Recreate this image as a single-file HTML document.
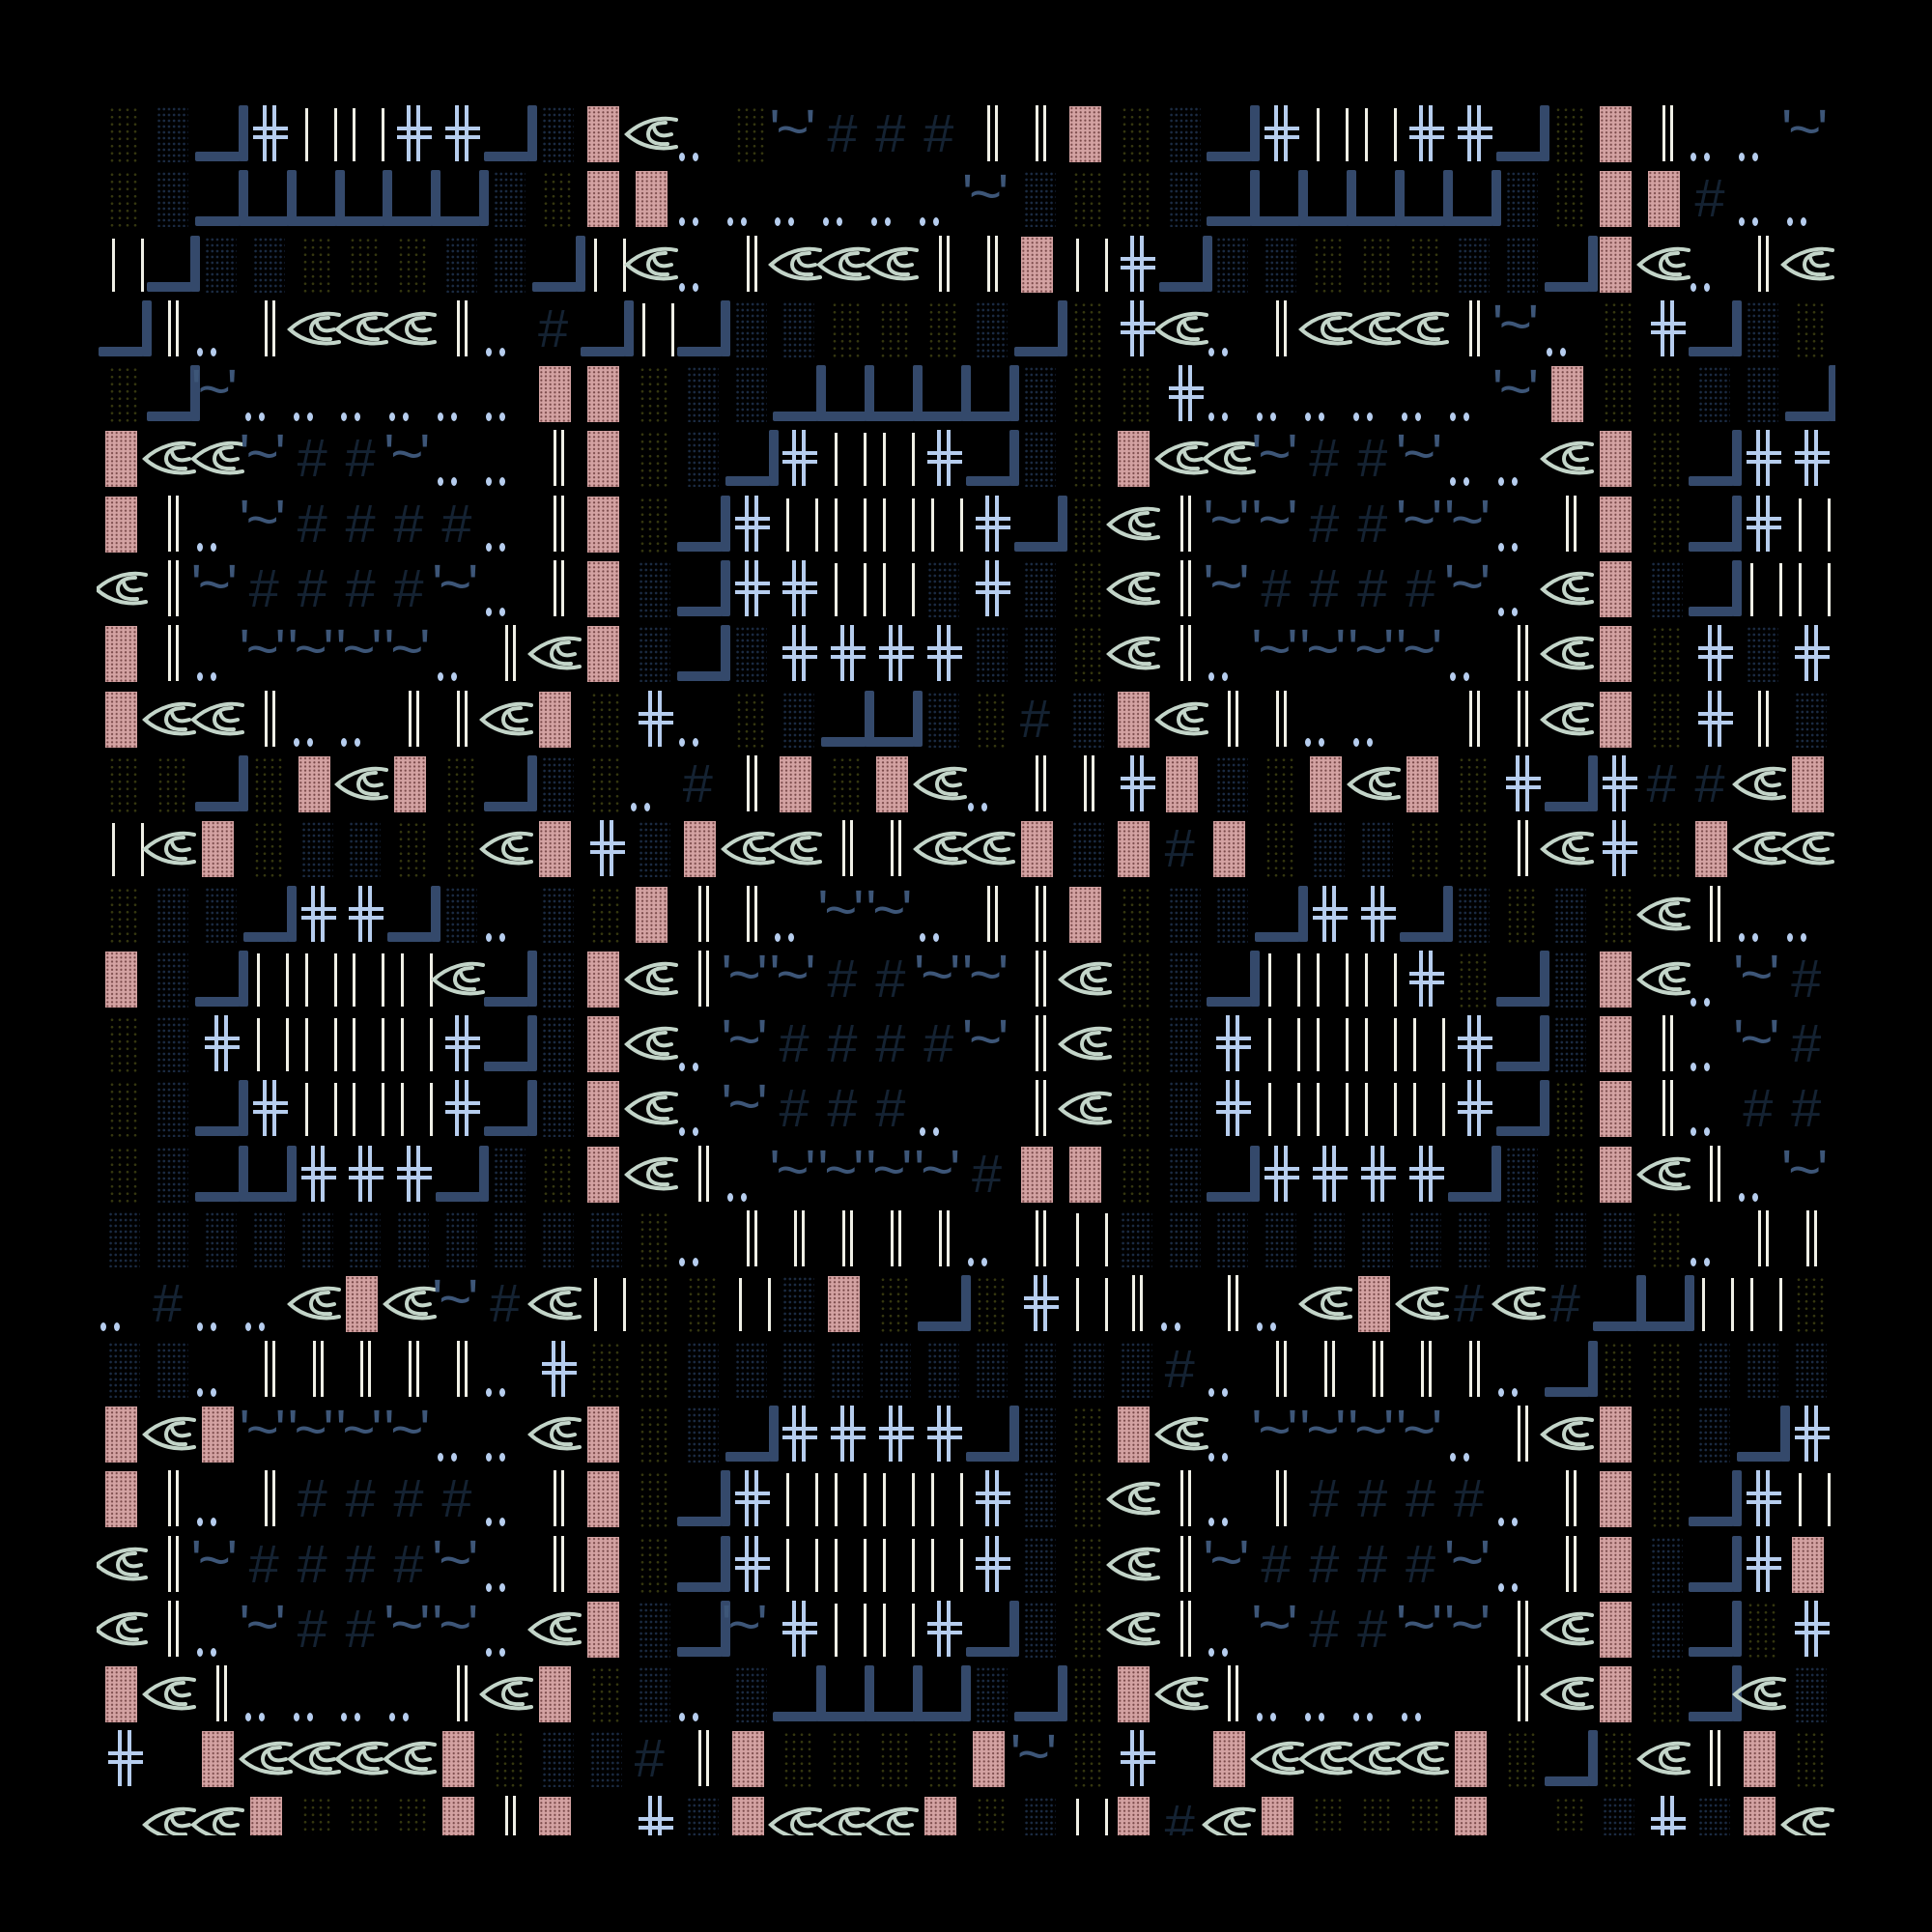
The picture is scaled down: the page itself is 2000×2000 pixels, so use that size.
<!DOCTYPE html>
<html><head><meta charset="utf-8"><style>
html,body{margin:0;padding:0;background:#000;width:2000px;height:2000px;overflow:hidden}
.c{position:absolute;left:100px;top:100px;width:1800px;height:1800px;overflow:hidden}
.g{position:absolute;left:2px;top:0;display:grid;grid-template-columns:repeat(36,49.9px);grid-auto-rows:67.3px}
.g i{position:relative;display:block;font-style:normal}
.g i::before,.g i::after{content:"";position:absolute}
.p::before{left:7px;top:10px;width:33px;height:58px;background:#d3a2a2 radial-gradient(circle,#7a4a4a 0.9px,transparent 1.3px) 0 0/4.7px 4.2px}
.o::before{left:10px;top:10px;width:33px;height:58px;background:radial-gradient(circle,#35370f 1.1px,transparent 1.6px) 0 0/8px 7.5px}
.b::before{left:10px;top:10px;width:33px;height:58px;background:radial-gradient(circle,#1b2b43 1.1px,transparent 1.6px) 0 0/5.2px 6px}
.l::before{left:0;top:57px;width:47px;height:10px;background:#34496b;border-radius:2px}
.l::after{left:45px;top:9px;width:10px;height:58px;background:#34496b;border-radius:2px}
.x::before{left:20px;top:9px;width:14px;height:58px;background:linear-gradient(to right,#b6cdee 0 4px,transparent 4px 10px,#b6cdee 10px 14px)}
.x::after{left:10px;top:31px;width:36px;height:13px;background:linear-gradient(#b6cdee 0 4px,transparent 4px 9px,#b6cdee 9px 13px)}
.v::before{left:14px;top:12px;width:3px;height:55px;background:#f0f0e6}
.v::after{left:44px;top:12px;width:3px;height:55px;background:#f0f0e6}
.d::before{left:22px;top:9px;width:3px;height:58px;background:#f0f0e6}
.d::after{left:30px;top:9px;width:3px;height:58px;background:#f0f0e6}
.s::before{left:2px;top:58px;width:6px;height:9px;border-radius:50%;background:#b6cdee}
.s::after{left:16px;top:58px;width:6px;height:9px;border-radius:50%;background:#b6cdee}
.t{color:#3d5678;font:58px/1 "Liberation Sans",sans-serif;padding:6px 0 0 0;letter-spacing:-4px;white-space:nowrap;margin-left:-4px}
.h{color:#142232;font:56px/1 "Liberation Sans",sans-serif;padding:10px 0 0 6px}
.e svg{position:absolute;left:-6px;top:18px;width:58px;height:40px;overflow:visible}
</style></head><body>
<svg width="0" height="0" style="position:absolute"><symbol id="y" viewBox="0 0 58 40"><g fill="none" stroke="#c3d5c9" stroke-width="4" stroke-linecap="round"><path d="M55 6C38 2 18 8 4 21C18 34 38 38 55 34"/><path d="M44 9C32 9 26 14 26 21C26 28 33 32 46 31"/><path d="M32 14C34 22 40 24 50 21"/></g></symbol></svg>
<div class="c"><div class="g">
<!-- R0 -->
<i class=o></i><i class=b></i><i class=l></i><i class=x></i><i class=v></i><i class=v></i><i class=x></i><i class=x></i><i class=l></i><i class=b></i><i class=p></i><i class=e><svg><use href="#y"/></svg></i><i class=s></i><i class=o></i><i class=t>'~'</i><i class=h>#</i><i class=h>#</i><i class=h>#</i><i class=d></i><i class=d></i><i class=p></i><i class=o></i><i class=b></i><i class=l></i><i class=x></i><i class=v></i><i class=v></i><i class=x></i><i class=x></i><i class=l></i><i class=o></i><i class=p></i><i class=d></i><i class=s></i><i class=s></i><i class=t>'~'</i>
<!-- R1 -->
<i class=o></i><i class=b></i><i class=l></i><i class=l></i><i class=l></i><i class=l></i><i class=l></i><i class=l></i><i class=b></i><i class=o></i><i class=p></i><i class=p></i><i class=s></i><i class=s></i><i class=s></i><i class=s></i><i class=s></i><i class=s></i><i class=t>'~'</i><i class=b></i><i class=o></i><i class=o></i><i class=b></i><i class=l></i><i class=l></i><i class=l></i><i class=l></i><i class=l></i><i class=l></i><i class=b></i><i class=o></i><i class=p></i><i class=p></i><i class=h>#</i><i class=s></i><i class=s></i>
<!-- R2 -->
<i class=v></i><i class=l></i><i class=b></i><i class=b></i><i class=o></i><i class=o></i><i class=o></i><i class=b></i><i class=b></i><i class=l></i><i class=v></i><i class=e><svg><use href="#y"/></svg></i><i class=s></i><i class=d></i><i class=e><svg><use href="#y"/></svg></i><i class=e><svg><use href="#y"/></svg></i><i class=e><svg><use href="#y"/></svg></i><i class=d></i><i class=d></i><i class=p></i><i class=v></i><i class=x></i><i class=l></i><i class=b></i><i class=b></i><i class=o></i><i class=o></i><i class=o></i><i class=b></i><i class=b></i><i class=l></i><i class=p></i><i class=e><svg><use href="#y"/></svg></i><i class=s></i><i class=d></i><i class=e><svg><use href="#y"/></svg></i>
<!-- R3 -->
<i class=l></i><i class=d></i><i class=s></i><i class=d></i><i class=e><svg><use href="#y"/></svg></i><i class=e><svg><use href="#y"/></svg></i><i class=e><svg><use href="#y"/></svg></i><i class=d></i><i class=s></i><i class=h>#</i><i class=l></i><i class=v></i><i class=l></i><i class=b></i><i class=b></i><i class=o></i><i class=o></i><i class=o></i><i class=b></i><i class=l></i><i class=o></i><i class=x></i><i class=e><svg><use href="#y"/></svg></i><i class=s></i><i class=d></i><i class=e><svg><use href="#y"/></svg></i><i class=e><svg><use href="#y"/></svg></i><i class=e><svg><use href="#y"/></svg></i><i class=d></i><i class=t>'~'</i><i class=s></i><i class=o></i><i class=x></i><i class=l></i><i class=b></i><i class=o></i>
<!-- R4 -->
<i class=o></i><i class=l></i><i class=t>'~'</i><i class=s></i><i class=s></i><i class=s></i><i class=s></i><i class=s></i><i class=s></i><i class=p></i><i class=p></i><i class=o></i><i class=b></i><i class=b></i><i class=l></i><i class=l></i><i class=l></i><i class=l></i><i class=l></i><i class=b></i><i class=o></i><i class=o></i><i class=x></i><i class=s></i><i class=s></i><i class=s></i><i class=s></i><i class=s></i><i class=s></i><i class=t>'~'</i><i class=p></i><i class=o></i><i class=o></i><i class=b></i><i class=b></i><i class=l></i>
<!-- R5 -->
<i class=p></i><i class=e><svg><use href="#y"/></svg></i><i class=e><svg><use href="#y"/></svg></i><i class=t>'~'</i><i class=h>#</i><i class=h>#</i><i class=t>'~'</i><i class=s></i><i class=s></i><i class=d></i><i class=p></i><i class=o></i><i class=b></i><i class=l></i><i class=x></i><i class=v></i><i class=v></i><i class=x></i><i class=l></i><i class=b></i><i class=o></i><i class=p></i><i class=e><svg><use href="#y"/></svg></i><i class=e><svg><use href="#y"/></svg></i><i class=t>'~'</i><i class=h>#</i><i class=h>#</i><i class=t>'~'</i><i class=s></i><i class=s></i><i class=e><svg><use href="#y"/></svg></i><i class=p></i><i class=o></i><i class=l></i><i class=x></i><i class=x></i>
<!-- R6 -->
<i class=p></i><i class=d></i><i class=s></i><i class=t>'~'</i><i class=h>#</i><i class=h>#</i><i class=h>#</i><i class=h>#</i><i class=s></i><i class=d></i><i class=p></i><i class=o></i><i class=l></i><i class=x></i><i class=v></i><i class=v></i><i class=v></i><i class=v></i><i class=x></i><i class=l></i><i class=o></i><i class=e><svg><use href="#y"/></svg></i><i class=d></i><i class=t>'~'</i><i class=t>'~'</i><i class=h>#</i><i class=h>#</i><i class=t>'~'</i><i class=t>'~'</i><i class=s></i><i class=d></i><i class=p></i><i class=o></i><i class=l></i><i class=x></i><i class=v></i>
<!-- R7 -->
<i class=e><svg><use href="#y"/></svg></i><i class=d></i><i class=t>'~'</i><i class=h>#</i><i class=h>#</i><i class=h>#</i><i class=h>#</i><i class=t>'~'</i><i class=s></i><i class=d></i><i class=p></i><i class=b></i><i class=l></i><i class=x></i><i class=x></i><i class=v></i><i class=v></i><i class=b></i><i class=x></i><i class=b></i><i class=o></i><i class=e><svg><use href="#y"/></svg></i><i class=d></i><i class=t>'~'</i><i class=h>#</i><i class=h>#</i><i class=h>#</i><i class=h>#</i><i class=t>'~'</i><i class=s></i><i class=e><svg><use href="#y"/></svg></i><i class=p></i><i class=b></i><i class=l></i><i class=v></i><i class=v></i>
<!-- R8 -->
<i class=p></i><i class=d></i><i class=s></i><i class=t>'~'</i><i class=t>'~'</i><i class=t>'~'</i><i class=t>'~'</i><i class=s></i><i class=d></i><i class=e><svg><use href="#y"/></svg></i><i class=p></i><i class=b></i><i class=l></i><i class=b></i><i class=x></i><i class=x></i><i class=x></i><i class=x></i><i class=b></i><i class=b></i><i class=o></i><i class=e><svg><use href="#y"/></svg></i><i class=d></i><i class=s></i><i class=t>'~'</i><i class=t>'~'</i><i class=t>'~'</i><i class=t>'~'</i><i class=s></i><i class=d></i><i class=e><svg><use href="#y"/></svg></i><i class=p></i><i class=o></i><i class=x></i><i class=b></i><i class=x></i>
<!-- R9 -->
<i class=p></i><i class=e><svg><use href="#y"/></svg></i><i class=e><svg><use href="#y"/></svg></i><i class=d></i><i class=s></i><i class=s></i><i class=d></i><i class=d></i><i class=e><svg><use href="#y"/></svg></i><i class=p></i><i class=o></i><i class=x></i><i class=s></i><i class=o></i><i class=b></i><i class=l></i><i class=l></i><i class=b></i><i class=o></i><i class=h>#</i><i class=b></i><i class=p></i><i class=e><svg><use href="#y"/></svg></i><i class=d></i><i class=d></i><i class=s></i><i class=s></i><i></i><i class=d></i><i class=d></i><i class=e><svg><use href="#y"/></svg></i><i class=p></i><i class=o></i><i class=x></i><i class=d></i><i class=b></i>
<!-- R10 -->
<i class=o></i><i class=o></i><i class=l></i><i class=o></i><i class=p></i><i class=e><svg><use href="#y"/></svg></i><i class=p></i><i class=o></i><i class=l></i><i class=b></i><i class=o></i><i class=s></i><i class=h>#</i><i class=d></i><i class=p></i><i class=o></i><i class=p></i><i class=e><svg><use href="#y"/></svg></i><i class=s></i><i class=d></i><i class=d></i><i class=x></i><i class=p></i><i class=b></i><i class=o></i><i class=p></i><i class=e><svg><use href="#y"/></svg></i><i class=p></i><i class=o></i><i class=x></i><i class=l></i><i class=x></i><i class=h>#</i><i class=h>#</i><i class=e><svg><use href="#y"/></svg></i><i class=p></i>
<!-- R11 -->
<i class=v></i><i class=e><svg><use href="#y"/></svg></i><i class=p></i><i class=o></i><i class=b></i><i class=b></i><i class=o></i><i class=o></i><i class=e><svg><use href="#y"/></svg></i><i class=p></i><i class=x></i><i class=b></i><i class=p></i><i class=e><svg><use href="#y"/></svg></i><i class=e><svg><use href="#y"/></svg></i><i class=d></i><i class=d></i><i class=e><svg><use href="#y"/></svg></i><i class=e><svg><use href="#y"/></svg></i><i class=p></i><i class=b></i><i class=p></i><i class=h>#</i><i class=p></i><i class=o></i><i class=b></i><i class=b></i><i class=o></i><i class=o></i><i class=d></i><i class=e><svg><use href="#y"/></svg></i><i class=x></i><i class=o></i><i class=p></i><i class=e><svg><use href="#y"/></svg></i><i class=e><svg><use href="#y"/></svg></i>
<!-- R12 -->
<i class=o></i><i class=b></i><i class=b></i><i class=l></i><i class=x></i><i class=x></i><i class=l></i><i class=b></i><i class=s></i><i class=b></i><i class=o></i><i class=p></i><i class=d></i><i class=d></i><i class=s></i><i class=t>'~'</i><i class=t>'~'</i><i class=s></i><i class=d></i><i class=d></i><i class=p></i><i class=o></i><i class=b></i><i class=b></i><i class=l></i><i class=x></i><i class=x></i><i class=l></i><i class=b></i><i class=o></i><i class=b></i><i class=o></i><i class=e><svg><use href="#y"/></svg></i><i class=d></i><i class=s></i><i class=s></i>
<!-- R13 -->
<i class=p></i><i class=b></i><i class=l></i><i class=v></i><i class=v></i><i class=v></i><i class=v></i><i class=e><svg><use href="#y"/></svg></i><i class=l></i><i class=b></i><i class=p></i><i class=e><svg><use href="#y"/></svg></i><i class=d></i><i class=t>'~'</i><i class=t>'~'</i><i class=h>#</i><i class=h>#</i><i class=t>'~'</i><i class=t>'~'</i><i class=d></i><i class=e><svg><use href="#y"/></svg></i><i class=o></i><i class=b></i><i class=l></i><i class=v></i><i class=v></i><i class=v></i><i class=x></i><i class=o></i><i class=l></i><i class=b></i><i class=p></i><i class=e><svg><use href="#y"/></svg></i><i class=s></i><i class=t>'~'</i><i class=h>#</i>
<!-- R14 -->
<i class=o></i><i class=b></i><i class=x></i><i class=v></i><i class=v></i><i class=v></i><i class=v></i><i class=x></i><i class=l></i><i class=b></i><i class=p></i><i class=e><svg><use href="#y"/></svg></i><i class=s></i><i class=t>'~'</i><i class=h>#</i><i class=h>#</i><i class=h>#</i><i class=h>#</i><i class=t>'~'</i><i class=d></i><i class=e><svg><use href="#y"/></svg></i><i class=o></i><i class=b></i><i class=x></i><i class=v></i><i class=v></i><i class=v></i><i class=v></i><i class=x></i><i class=l></i><i class=b></i><i class=p></i><i class=d></i><i class=s></i><i class=t>'~'</i><i class=h>#</i>
<!-- R15 -->
<i class=o></i><i class=b></i><i class=l></i><i class=x></i><i class=v></i><i class=v></i><i class=v></i><i class=x></i><i class=l></i><i class=b></i><i class=p></i><i class=e><svg><use href="#y"/></svg></i><i class=s></i><i class=t>'~'</i><i class=h>#</i><i class=h>#</i><i class=h>#</i><i class=s></i><i></i><i class=d></i><i class=e><svg><use href="#y"/></svg></i><i class=o></i><i class=b></i><i class=x></i><i class=v></i><i class=v></i><i class=v></i><i class=v></i><i class=x></i><i class=l></i><i class=o></i><i class=p></i><i class=d></i><i class=s></i><i class=h>#</i><i class=h>#</i>
<!-- R16 -->
<i class=o></i><i class=b></i><i class=l></i><i class=l></i><i class=x></i><i class=x></i><i class=x></i><i class=l></i><i class=b></i><i class=o></i><i class=p></i><i class=e><svg><use href="#y"/></svg></i><i class=d></i><i class=s></i><i class=t>'~'</i><i class=t>'~'</i><i class=t>'~'</i><i class=t>'~'</i><i class=h>#</i><i class=p></i><i class=p></i><i class=o></i><i class=b></i><i class=l></i><i class=x></i><i class=x></i><i class=x></i><i class=x></i><i class=l></i><i class=b></i><i class=o></i><i class=p></i><i class=e><svg><use href="#y"/></svg></i><i class=d></i><i class=s></i><i class=t>'~'</i>
<!-- R17 -->
<i class=b></i><i class=b></i><i class=b></i><i class=b></i><i class=b></i><i class=b></i><i class=b></i><i class=b></i><i class=b></i><i class=b></i><i class=b></i><i class=o></i><i class=s></i><i class=d></i><i class=d></i><i class=d></i><i class=d></i><i class=d></i><i class=s></i><i class=d></i><i class=v></i><i class=b></i><i class=b></i><i class=b></i><i class=b></i><i class=b></i><i class=b></i><i class=b></i><i class=b></i><i class=b></i><i class=b></i><i class=b></i><i class=o></i><i class=s></i><i class=d></i><i class=d></i>
<!-- R18 -->
<i class=s></i><i class=h>#</i><i class=s></i><i class=s></i><i class=e><svg><use href="#y"/></svg></i><i class=p></i><i class=e><svg><use href="#y"/></svg></i><i class=t>'~'</i><i class=h>#</i><i class=e><svg><use href="#y"/></svg></i><i class=v></i><i class=o></i><i class=o></i><i class=v></i><i class=b></i><i class=p></i><i class=o></i><i class=l></i><i class=o></i><i class=x></i><i class=v></i><i class=d></i><i class=s></i><i class=d></i><i class=s></i><i class=e><svg><use href="#y"/></svg></i><i class=p></i><i class=e><svg><use href="#y"/></svg></i><i class=h>#</i><i class=e><svg><use href="#y"/></svg></i><i class=h>#</i><i class=l></i><i class=l></i><i class=v></i><i class=v></i><i class=o></i>
<!-- R19 -->
<i class=b></i><i class=b></i><i class=s></i><i class=d></i><i class=d></i><i class=d></i><i class=d></i><i class=d></i><i class=s></i><i class=x></i><i class=o></i><i class=o></i><i class=b></i><i class=b></i><i class=b></i><i class=b></i><i class=b></i><i class=b></i><i class=b></i><i class=b></i><i class=b></i><i class=b></i><i class=h>#</i><i class=s></i><i class=d></i><i class=d></i><i class=d></i><i class=d></i><i class=d></i><i class=s></i><i class=l></i><i class=o></i><i class=o></i><i class=b></i><i class=b></i><i class=b></i>
<!-- R20 -->
<i class=p></i><i class=e><svg><use href="#y"/></svg></i><i class=p></i><i class=t>'~'</i><i class=t>'~'</i><i class=t>'~'</i><i class=t>'~'</i><i class=s></i><i class=s></i><i class=e><svg><use href="#y"/></svg></i><i class=p></i><i class=o></i><i class=b></i><i class=l></i><i class=x></i><i class=x></i><i class=x></i><i class=x></i><i class=l></i><i class=b></i><i class=o></i><i class=p></i><i class=e><svg><use href="#y"/></svg></i><i class=s></i><i class=t>'~'</i><i class=t>'~'</i><i class=t>'~'</i><i class=t>'~'</i><i class=s></i><i class=d></i><i class=e><svg><use href="#y"/></svg></i><i class=p></i><i class=o></i><i class=b></i><i class=l></i><i class=x></i>
<!-- R21 -->
<i class=p></i><i class=d></i><i class=s></i><i class=d></i><i class=h>#</i><i class=h>#</i><i class=h>#</i><i class=h>#</i><i class=s></i><i class=d></i><i class=p></i><i class=o></i><i class=l></i><i class=x></i><i class=v></i><i class=v></i><i class=v></i><i class=v></i><i class=x></i><i class=b></i><i class=o></i><i class=e><svg><use href="#y"/></svg></i><i class=d></i><i class=s></i><i class=d></i><i class=h>#</i><i class=h>#</i><i class=h>#</i><i class=h>#</i><i class=s></i><i class=d></i><i class=p></i><i class=o></i><i class=l></i><i class=x></i><i class=v></i>
<!-- R22 -->
<i class=e><svg><use href="#y"/></svg></i><i class=d></i><i class=t>'~'</i><i class=h>#</i><i class=h>#</i><i class=h>#</i><i class=h>#</i><i class=t>'~'</i><i class=s></i><i class=d></i><i class=p></i><i class=o></i><i class=l></i><i class=x></i><i class=v></i><i class=v></i><i class=v></i><i class=v></i><i class=x></i><i class=b></i><i class=o></i><i class=e><svg><use href="#y"/></svg></i><i class=d></i><i class=t>'~'</i><i class=h>#</i><i class=h>#</i><i class=h>#</i><i class=h>#</i><i class=t>'~'</i><i class=s></i><i class=d></i><i class=p></i><i class=b></i><i class=l></i><i class=x></i><i class=p></i>
<!-- R23 -->
<i class=e><svg><use href="#y"/></svg></i><i class=d></i><i class=s></i><i class=t>'~'</i><i class=h>#</i><i class=h>#</i><i class=t>'~'</i><i class=t>'~'</i><i class=s></i><i class=e><svg><use href="#y"/></svg></i><i class=p></i><i class=b></i><i class=l></i><i class=t>'~'</i><i class=x></i><i class=v></i><i class=v></i><i class=x></i><i class=l></i><i class=b></i><i class=o></i><i class=e><svg><use href="#y"/></svg></i><i class=d></i><i class=s></i><i class=t>'~'</i><i class=h>#</i><i class=h>#</i><i class=t>'~'</i><i class=t>'~'</i><i class=d></i><i class=e><svg><use href="#y"/></svg></i><i class=p></i><i class=b></i><i class=l></i><i class=o></i><i class=x></i>
<!-- R24 -->
<i class=p></i><i class=e><svg><use href="#y"/></svg></i><i class=d></i><i class=s></i><i class=s></i><i class=s></i><i class=s></i><i class=d></i><i class=e><svg><use href="#y"/></svg></i><i class=p></i><i class=o></i><i class=b></i><i class=s></i><i class=b></i><i class=l></i><i class=l></i><i class=l></i><i class=l></i><i class=b></i><i class=l></i><i class=o></i><i class=p></i><i class=e><svg><use href="#y"/></svg></i><i class=d></i><i class=s></i><i class=s></i><i class=s></i><i class=s></i><i></i><i class=d></i><i class=e><svg><use href="#y"/></svg></i><i class=p></i><i class=o></i><i class=l></i><i class=e><svg><use href="#y"/></svg></i><i class=b></i>
<!-- R25 -->
<i class=x></i><i></i><i class=p></i><i class=e><svg><use href="#y"/></svg></i><i class=e><svg><use href="#y"/></svg></i><i class=e><svg><use href="#y"/></svg></i><i class=e><svg><use href="#y"/></svg></i><i class=p></i><i class=o></i><i class=b></i><i class=b></i><i class=h>#</i><i class=d></i><i class=p></i><i class=o></i><i class=o></i><i class=o></i><i class=o></i><i class=p></i><i class=t>'~'</i><i class=o></i><i class=x></i><i></i><i class=p></i><i class=e><svg><use href="#y"/></svg></i><i class=e><svg><use href="#y"/></svg></i><i class=e><svg><use href="#y"/></svg></i><i class=e><svg><use href="#y"/></svg></i><i class=p></i><i class=o></i><i class=l></i><i class=o></i><i class=e><svg><use href="#y"/></svg></i><i class=d></i><i class=p></i><i class=o></i>
<!-- R26 -->
<i></i><i class=e><svg><use href="#y"/></svg></i><i class=e><svg><use href="#y"/></svg></i><i class=p></i><i class=o></i><i class=o></i><i class=o></i><i class=p></i><i class=d></i><i class=p></i><i></i><i class=x></i><i class=b></i><i class=p></i><i class=e><svg><use href="#y"/></svg></i><i class=e><svg><use href="#y"/></svg></i><i class=e><svg><use href="#y"/></svg></i><i class=p></i><i class=o></i><i class=b></i><i class=v></i><i class=p></i><i class=h>#</i><i class=e><svg><use href="#y"/></svg></i><i class=p></i><i class=o></i><i class=o></i><i class=o></i><i class=p></i><i></i><i class=o></i><i class=b></i><i class=x></i><i class=b></i><i class=p></i><i class=e><svg><use href="#y"/></svg></i>
</div></div>
</body></html>
